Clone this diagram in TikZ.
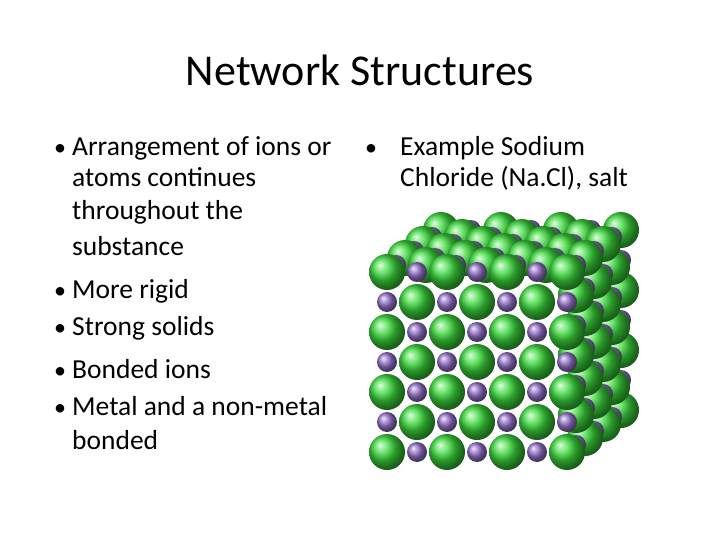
\documentclass[tikz,border=0pt]{standalone}
\usepackage{fontspec}
\setmainfont{Carlito}
\begin{document}
\begin{tikzpicture}[x=1pt,y=-1pt,
  txt/.style={anchor=base west,inner sep=0pt,font=\fontsize{27.5}{32}\selectfont},
  bul/.style={anchor=base,inner sep=0pt,font=\fontsize{24}{28}\selectfont}]
\useasboundingbox[fill=white] (0,0) rectangle (720,540);
\node[font=\fontsize{44}{50}\selectfont] (title) at (360,70) {Network Structures};
% left column
\foreach \t/\y/\b [count=\n] in {Arrangement of ions or/156/1,atoms continues/187/0,throughout the/219/0,substance/255/0,More rigid/298/1,Strong solids/335/1,Bonded ions/378/1,Metal and a non-metal/415/1,bonded/449/0}{
  \node[txt] (l\n) at (72,\y) {\t};
  \ifnum\b=1 \node[bul] (lb\n) at (60,\y) {•};\fi
}
\node[bul] (rb) at (371,156) {•};
\node[txt] (r1) at (400,156) {Example Sodium};
\node[txt] (r2) at (400,187) {Chloride (Na.Cl), salt};
% cube
\definecolor{gr}{RGB}{60,220,60}
\definecolor{pu}{RGB}{150,115,205}
\foreach \k in {6,5,...,0}{
 \foreach \j in {0,...,6}{
  \foreach \i in {0,...,6}{
   \pgfmathtruncatemacro{\vis}{(\k==0)||(\j==6)||(\i==6)}
   \ifnum\vis=1
    \pgfmathsetmacro{\px}{387+30*\i+9*\k}
    \pgfmathsetmacro{\py}{452-30*\j-7*\k}
    \pgfmathtruncatemacro{\pty}{mod(\i+\j+\k,2)}
    \ifnum\pty=0
      \shade[ball color=gr] (\px,\py) circle (18);
    \else
      \shade[ball color=pu] (\px,\py) circle (10);
    \fi
   \fi
  }}}
\end{tikzpicture}
\end{document}
